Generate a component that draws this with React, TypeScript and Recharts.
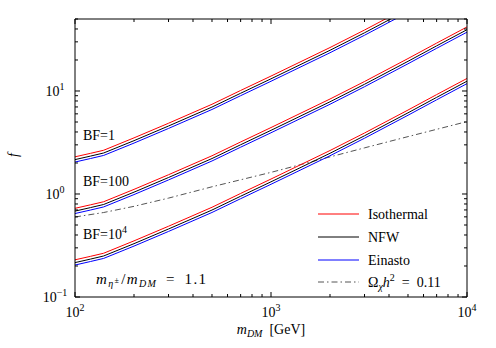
import React from 'react';
import { LineChart, Line, XAxis, YAxis, Customized } from 'recharts';

// ---- data ----
const massGeV = [100, 120, 140, 200, 300, 500, 700, 1000, 2000, 3000, 5000, 7000, 10000];

const bf1Isothermal = [2.296, 2.482, 2.659, 3.507, 4.863, 7.431, 10.12, 13.96, 26.42, 39.08, 65.3, 92.24, 132.4];
const bf1NFW = [2.157, 2.334, 2.501, 3.295, 4.572, 6.985, 9.508, 13.13, 24.84, 36.74, 61.38, 86.7, 124.5];
const bf1Einasto = [2.043, 2.21, 2.368, 3.121, 4.329, 6.615, 9.002, 12.43, 23.52, 34.78, 58.12, 82.09, 117.9];

const bf100Isothermal = [0.726, 0.785, 0.841, 1.109, 1.538, 2.35, 3.199, 4.416, 8.356, 12.36, 20.65, 29.17, 41.88];
const bf100NFW = [0.682, 0.738, 0.791, 1.042, 1.446, 2.209, 3.007, 4.151, 7.855, 11.62, 19.41, 27.42, 39.37];
const bf100Einasto = [0.646, 0.699, 0.749, 0.987, 1.369, 2.092, 2.847, 3.93, 7.437, 11.0, 18.38, 25.96, 37.27];

const bf1e4Isothermal = [0.2296, 0.2482, 0.266, 0.3507, 0.4864, 0.7432, 1.012, 1.397, 2.643, 3.909, 6.531, 9.225, 13.24];
const bf1e4NFW = [0.2157, 0.2334, 0.2502, 0.3295, 0.4573, 0.6986, 0.951, 1.313, 2.484, 3.675, 6.138, 8.672, 12.45];
const bf1e4Einasto = [0.2043, 0.2211, 0.2369, 0.3121, 0.4329, 0.6616, 0.9004, 1.243, 2.352, 3.479, 5.813, 8.21, 11.79];

const omegaMassGeV = [100, 140, 200, 300, 500, 1000, 2000, 3000, 5000, 10000];
const omegaF = [0.598, 0.661, 0.759, 0.912, 1.175, 1.622, 2.291, 2.805, 3.606, 5.047];

const xTicks = [100, 200, 300, 400, 500, 600, 700, 800, 900, 1000, 2000, 3000, 4000, 5000, 6000, 7000, 8000, 9000, 10000];
const yTicks = [0.1, 0.2, 0.3, 0.4, 0.5, 0.6, 0.7, 0.8, 0.9, 1, 2, 3, 4, 5, 6, 7, 8, 9, 10, 20, 30, 40, 50];

const profileNames = ['Isothermal', 'NFW', 'Einasto'];
const profileColors = ['#ff0000', '#000000', '#0000ff'];
const bfLabels = ['BF=1', 'BF=100', 'BF=10'];

// ---- helpers ----
const toPoints = (xs: number[], ys: number[]) => xs.map((x, i) => ({ x, f: ys[i] }));

const groups = [
  [bf1Isothermal, bf1NFW, bf1Einasto],
  [bf100Isothermal, bf100NFW, bf100Einasto],
  [bf1e4Isothermal, bf1e4NFW, bf1e4Einasto],
];

const FONT = "'Liberation Serif', 'DejaVu Serif', serif";
const OMEGA_COLOR = '#555555';
const DASH = '6 3 1.5 3';
const TXT: React.CSSProperties = { fontFamily: FONT, fontSize: 14 };

const isMajor = (v: number) => {
  const l = Math.log10(v);
  return Math.abs(l - Math.round(l)) < 1e-9;
};
const expOf = (v: number) => {
  const e = Math.round(Math.log10(v));
  return e < 0 ? '\u2212' + Math.abs(e) : String(e);
};

const MAJ = 5;
const MIN = 3;

const BottomTick = (props: any) => {
  const { x, y, payload } = props;
  const v = payload.value;
  const major = isMajor(v);
  return (
    <g>
      <line x1={x} x2={x} y1={y} y2={y - (major ? MAJ : MIN)} stroke="#000" strokeWidth={1} />
      {major && (
        <text x={x} y={y + 20} textAnchor="middle" style={TXT} fill="#000">
          10<tspan dy={-6} style={{ fontSize: 10 }}>{expOf(v)}</tspan>
        </text>
      )}
    </g>
  );
};

const TopTick = (props: any) => {
  const { x, y, payload } = props;
  const major = isMajor(payload.value);
  return <line x1={x} x2={x} y1={y} y2={y + (major ? MAJ : MIN)} stroke="#000" strokeWidth={1} />;
};

const LeftTick = (props: any) => {
  const { x, y, payload } = props;
  const v = payload.value;
  const major = isMajor(v);
  return (
    <g>
      <line x1={x} x2={x + (major ? MAJ : MIN)} y1={y} y2={y} stroke="#000" strokeWidth={1} />
      {major && (
        <text x={x - 20} y={y + 5} textAnchor="middle" style={TXT} fill="#000">
          10<tspan dy={-6} style={{ fontSize: 10 }}>{expOf(v)}</tspan>
        </text>
      )}
    </g>
  );
};

const RightTick = (props: any) => {
  const { x, y, payload } = props;
  const major = isMajor(payload.value);
  return <line x1={x} x2={x - (major ? MAJ : MIN)} y1={y} y2={y} stroke="#000" strokeWidth={1} />;
};

const it: React.CSSProperties = { fontStyle: 'italic' };
const sub: React.CSSProperties = { fontSize: 10 };
const subIt: React.CSSProperties = { fontSize: 10, fontStyle: 'italic' };

const Annotations = () => {
  const rows = [214, 237, 260];
  return (
    <g fill="#000">
      <text x={83} y={139.5} style={TXT}>{bfLabels[0]}</text>
      <text x={83} y={186} style={TXT}>{bfLabels[1]}</text>
      <text x={83} y={239} style={TXT}>
        {bfLabels[2]}
        <tspan dy={-6} style={sub}>4</tspan>
      </text>
      <text x={96} y={284} style={{ fontFamily: FONT, fontSize: 15 }} textLength={110} lengthAdjust="spacing">
        <tspan style={it}>m</tspan>
        <tspan style={subIt} dy={3}>η</tspan>
        <tspan style={{ fontSize: 8 }} dy={-4}>±</tspan>
        <tspan dy={1} dx={1}>/</tspan>
        <tspan style={it}>m</tspan>
        <tspan style={subIt} dy={3}>DM</tspan>
        <tspan dy={-3}>{'\u2002=\u20021.1'}</tspan>
      </text>
      <text x={18} y={155} textAnchor="middle" style={{ ...TXT, fontStyle: 'italic' }} transform="rotate(-90 18 155)">f</text>
      <text x={271} y={334} textAnchor="middle" style={TXT}>
        <tspan style={it}>m</tspan>
        <tspan style={subIt} dy={3}>DM</tspan>
        <tspan dy={-3}>{'\u2002[GeV]'}</tspan>
      </text>
      {/* legend */}
      {profileNames.map((n, i) => (
        <g key={n}>
          <line x1={318} x2={359} y1={rows[i]} y2={rows[i]} stroke={profileColors[i]} strokeWidth={1} />
          <text x={368} y={rows[i] + 5} style={TXT}>{n}</text>
        </g>
      ))}
      <line x1={318} x2={359} y1={282} y2={282} stroke={OMEGA_COLOR} strokeWidth={1} strokeDasharray={DASH} />
      <text x={368} y={287} style={TXT}>
        Ω<tspan style={subIt} dy={3}>χ</tspan>
        <tspan style={it} dy={-3}>h</tspan>
        <tspan style={sub} dy={-6}>2</tspan>
        <tspan dy={6}>{'\u2002=\u20020.11'}</tspan>
      </text>
    </g>
  );
};

export default function App() {
  return (
    <div style={{ position: 'absolute', left: 0, top: 0, background: '#fff' }}>
      <LineChart width={496} height={348} margin={{ top: 18, right: 28, bottom: 50, left: 74 }}>
        <XAxis
          xAxisId="b"
          dataKey="x"
          type="number"
          scale="log"
          domain={[100, 10000]}
          allowDataOverflow
          ticks={xTicks}
          interval={0}
          height={1}
          tickSize={0}
          tickMargin={0}
          tickLine={false}
          axisLine={{ stroke: '#000' }}
          tick={<BottomTick />}
          orientation="bottom"
        />
        <XAxis
          xAxisId="t"
          dataKey="x"
          type="number"
          scale="log"
          domain={[100, 10000]}
          allowDataOverflow
          ticks={xTicks}
          interval={0}
          height={1}
          tickSize={0}
          tickMargin={0}
          tickLine={false}
          axisLine={{ stroke: '#000' }}
          tick={<TopTick />}
          orientation="top"
        />
        <YAxis
          yAxisId="l"
          type="number"
          scale="log"
          domain={[0.1, 50]}
          allowDataOverflow
          ticks={yTicks}
          interval={0}
          width={1}
          tickSize={0}
          tickMargin={0}
          tickLine={false}
          axisLine={{ stroke: '#000' }}
          tick={<LeftTick />}
          orientation="left"
        />
        <YAxis
          yAxisId="r"
          type="number"
          scale="log"
          domain={[0.1, 50]}
          allowDataOverflow
          ticks={yTicks}
          interval={0}
          width={1}
          tickSize={0}
          tickMargin={0}
          tickLine={false}
          axisLine={{ stroke: '#000' }}
          tick={<RightTick />}
          orientation="right"
        />
        <Line
          xAxisId="b"
          yAxisId="l"
          data={toPoints(omegaMassGeV, omegaF)}
          dataKey="f"
          type="linear"
          stroke={OMEGA_COLOR}
          strokeWidth={1}
          strokeDasharray={DASH}
          dot={false}
          activeDot={false}
          isAnimationActive={false}
        />
        {groups.map((g, gi) =>
          g.map((arr, pi) => (
            <Line
              key={`${gi}-${pi}`}
              xAxisId="b"
              yAxisId="l"
              data={toPoints(massGeV, arr)}
              dataKey="f"
              name={profileNames[pi]}
              type="linear"
              stroke={profileColors[pi]}
              strokeWidth={1}
              dot={false}
              activeDot={false}
              isAnimationActive={false}
            />
          ))
        )}
        <Customized component={Annotations} />
      </LineChart>
    </div>
  );
}
